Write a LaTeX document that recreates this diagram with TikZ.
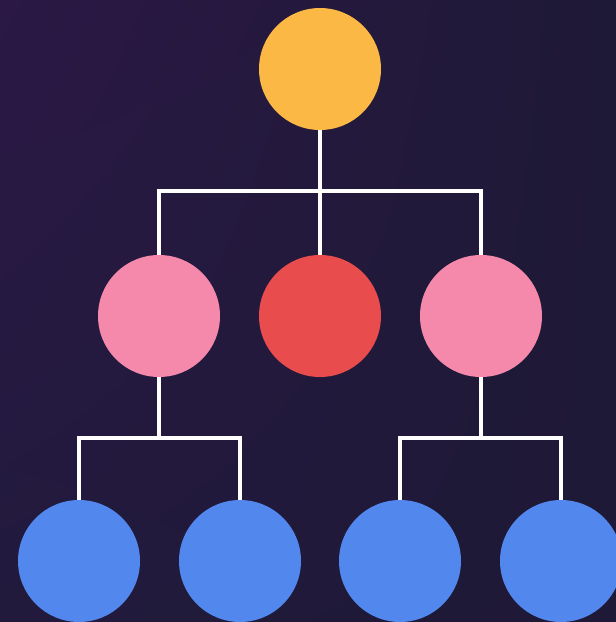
\documentclass[tikz,border=0pt]{standalone}
\usetikzlibrary{shadings}
\definecolor{bgA}{HTML}{2B1845}
\definecolor{bgB}{HTML}{1E1936}
\definecolor{bgC}{HTML}{211A3D}
\definecolor{rootc}{HTML}{FBB844}
\definecolor{pinkc}{HTML}{F589AC}
\definecolor{redc}{HTML}{E84C4D}
\definecolor{bluec}{HTML}{5287EE}
\tikzset{
  dot/.style={circle, minimum size=122pt, inner sep=0pt, draw=none},
  link/.style={draw=white, line width=3.5pt, line cap=butt, line join=miter}
}
\begin{document}
\begin{tikzpicture}[x=1pt, y=-1pt]
  % background with a slight diagonal gradient
  \path[use as bounding box, upper left=bgA, upper right=bgB, lower left=bgC, lower right=bgB]
    (0,0) rectangle (616,622);
  \shade[upper left=bgA, upper right=bgB, lower left=bgC, lower right=bgB]
    (0,0) rectangle (616,622);
  \clip (0,0) rectangle (616,622);

  % tree levels
  \node[dot, fill=rootc] (root) at (320,69) {};
  \node[dot, fill=pinkc] (l) at (159,316) {};
  \node[dot, fill=redc]  (m) at (320,316) {};
  \node[dot, fill=pinkc] (r) at (481,316) {};
  \node[dot, fill=bluec] (b1) at (79,561) {};
  \node[dot, fill=bluec] (b2) at (240,561) {};
  \node[dot, fill=bluec] (b3) at (400,561) {};
  \node[dot, fill=bluec] (b4) at (561,561) {};

  % junction points
  \coordinate (j0) at (320,191);
  \coordinate (jl) at (159,438);
  \coordinate (jr) at (481,438);

  % connectors
  \draw[link] (root.south) -- (j0);
  \draw[link] (j0) -- (m.north);
  \draw[link] (l.north) |- (j0) -| (r.north);
  \draw[link] (l.south) -- (jl);
  \draw[link] (b1.north) |- (jl) -| (b2.north);
  \draw[link] (r.south) -- (jr);
  \draw[link] (b3.north) |- (jr) -| (b4.north);
\end{tikzpicture}
\end{document}
